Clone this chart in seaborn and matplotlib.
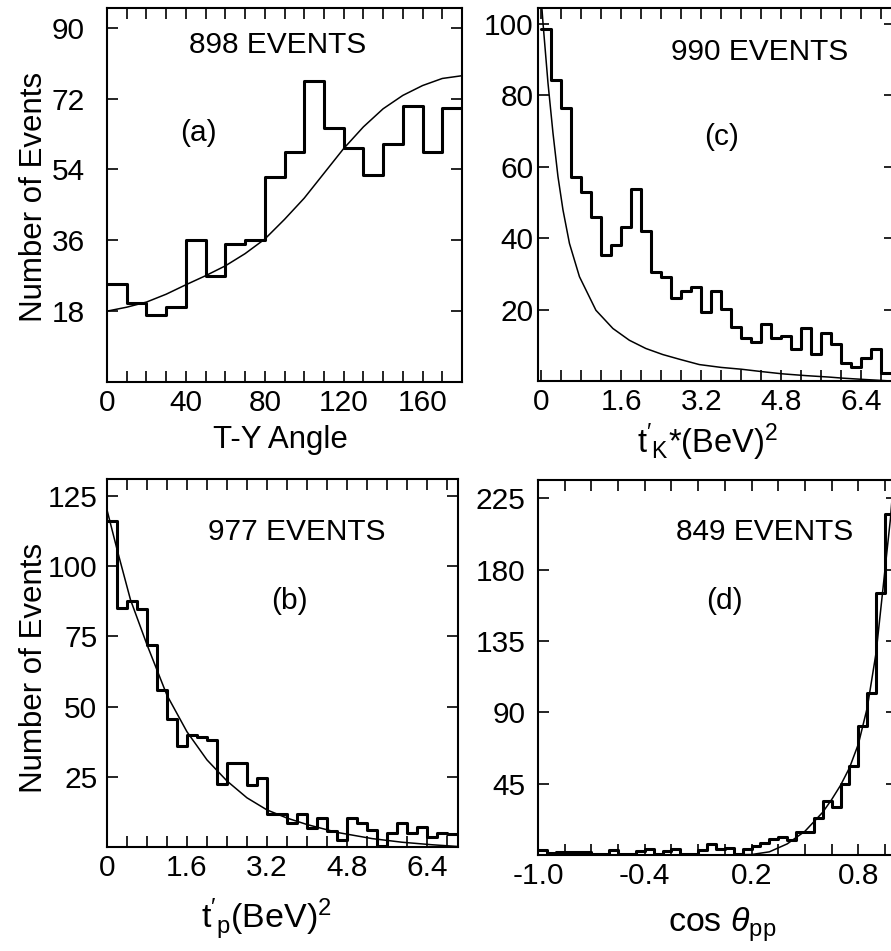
import numpy as np
import pandas as pd
import matplotlib
matplotlib.use("Agg")
import matplotlib.pyplot as plt
import seaborn as sns

# ---------------- data ----------------
# (a) T-Y angle, 10-degree bins
a_edges = list(range(0, 181, 10))
a_counts = [25, 20, 17, 19, 36, 27, 35, 36, 52, 58.5, 76.5, 64.5, 59.5, 52.5, 60.5, 70, 58.5, 69.5]
a_curve_x = [0, 10, 20, 30, 40, 50, 60, 70, 80, 90, 100, 110, 120, 130, 140, 150, 160, 170, 180]
a_curve_y = [18, 19, 20.3, 22.3, 24.7, 27, 29.5, 32.6, 36.3, 41.3, 46.7, 53, 59.3, 64.8, 69.4, 72.8, 75.3, 77.1, 77.8]

# (c) t'_K*, 0.2 bins
c_edges = [round(0.2 * i, 2) for i in range(36)]
c_counts = [98.5, 84.3, 76.4, 57.2, 53.0, 46.0, 35.4, 38.0, 43.2, 53.7, 42.1, 30.6, 29.2, 23.3, 25.1,
            26.2, 19.3, 25.2, 20.1, 15.0, 12.0, 11.0, 15.9, 12.0, 12.7, 8.9, 14.8, 7.6, 13.5, 10.3,
            5.1, 3.9, 6.3, 8.9, 2.1]
c_curve_x = [0.01, 0.03, 0.13, 0.23, 0.33, 0.43, 0.56, 0.76, 1.09, 1.43, 1.76, 2.09, 2.43, 2.76, 3.16,
             3.6, 4.0, 4.43, 4.83, 5.3, 5.76, 6.03, 6.5, 7.0]
c_curve_y = [104, 100.2, 83.4, 69.4, 57.2, 47.9, 38.5, 29.2, 19.8, 14.7, 11.4, 9.1, 7.4, 6.1, 4.6,
             3.8, 3.3, 2.6, 2.0, 1.5, 1.1, 0.8, 0.4, 0.0]

# (b) t'_p, 0.2 bins
b_edges = [round(0.2 * i, 2) for i in range(36)]
b_counts = [116.2, 85.2, 87.6, 84.9, 72.0, 55.9, 45.6, 35.8, 39.7, 39.1, 38.2, 22.6, 29.9, 29.9, 22.0,
            24.6, 11.7, 11.9, 8.4, 11.7, 6.6, 10.4, 5.8, 2.5, 10.4, 8.4, 6.0, 0.4, 5.1, 8.4,
            4.9, 7.0, 3.7, 4.9, 4.5]
b_curve_x = [0, 0.2, 0.47, 0.8, 1.0, 1.2, 1.6, 2.0, 2.4, 2.8, 3.2, 3.6, 4.0, 4.6, 5.3, 5.9, 6.5, 7.0]
b_curve_y = [120, 106, 88, 72, 63, 54, 41, 31, 23.5, 17.5, 13.2, 10.3, 8.0, 5.2, 3.0, 1.7, 0.8, 0.2]

# (d) cos theta_pp, 0.05 bins
d_edges = [round(-1.0 + 0.05 * i, 2) for i in range(41)]
d_counts = [3, 1, 2, 2, 2, 2, 0.5, 0.5, 3, 0.5, 0.5, 2.5, 4, 0.5, 2.5, 4, 0.5, 0.5, 3, 7,
            4, 4.5, 0.5, 3.6, 5.7, 7.8, 9.9, 11.5, 9.4, 14.7, 14.7, 23.5, 34.2, 30.4, 44.7, 56.0,
            81.1, 102.3, 165.6, 214.9]
d_curve_x = [-1.0, 0.0, 0.2, 0.3, 0.4, 0.5, 0.55, 0.6, 0.65, 0.7, 0.75, 0.8, 0.85, 0.9, 0.94, 0.98, 1.0]
d_curve_y = [0, 0, 0.3, 2, 7, 15, 21, 27, 35, 44, 55, 70, 93, 128, 170, 212, 240]

# tick values / labels
a_yticks = [18, 36, 54, 72, 90]
a_xticks = [0, 40, 80, 120, 160]
c_yticks = [20, 40, 60, 80, 100]
c_xticks = [0, 1.6, 3.2, 4.8, 6.4]
b_yticks = [25, 50, 75, 100, 125]
b_xticks = [0, 1.6, 3.2, 4.8, 6.4]
d_yticks = [45, 90, 135, 180, 225]
d_xticks = [-1.0, -0.4, 0.2, 0.8]
d_xticklabels = ["-1.0", "-0.4", "0.2", "0.8"]

# ---------------- style ----------------
sns.set_style("white")
plt.rcParams['font.family'] = ['Liberation Sans', 'DejaVu Sans']
plt.rcParams['mathtext.fontset'] = 'custom'
plt.rcParams['mathtext.rm'] = 'Liberation Sans'
plt.rcParams['mathtext.it'] = 'Liberation Sans:italic'
plt.rcParams['axes.unicode_minus'] = False
for k in ('text.color', 'axes.labelcolor', 'xtick.color', 'ytick.color', 'axes.edgecolor'):
    plt.rcParams[k] = 'black'

W, H = 891, 951
fig = plt.figure(figsize=(W / 100, H / 100), dpi=100)


def px_axes(left, top, right, bottom):
    return fig.add_axes([left / W, 1 - bottom / H, (right - left) / W, (bottom - top) / H])


TICK_FS = 21.5
ax_a = px_axes(107, 8, 462, 382)
ax_c = px_axes(538, 8, 895, 381)
ax_b = px_axes(107, 479, 458, 847)
ax_d = px_axes(538, 480, 897, 855)


def draw(ax, edges, counts, cx, cy):
    e = np.asarray(edges, float)
    df = pd.DataFrame({"x": (e[:-1] + e[1:]) / 2, "w": np.asarray(counts, float)})
    sns.histplot(data=df, x="x", weights="w", bins=list(e), element="step", fill=False,
                 color="black", linewidth=2.2, ax=ax)
    sns.lineplot(x=cx, y=cy, color="black", linewidth=1.1, ax=ax, sort=False)


draw(ax_a, a_edges, a_counts, a_curve_x, a_curve_y)
draw(ax_c, c_edges, c_counts, c_curve_x, c_curve_y)
draw(ax_b, b_edges, b_counts, b_curve_x, b_curve_y)
draw(ax_d, d_edges, d_counts, d_curve_x, d_curve_y)

ax_a.set_xlim(0, 180); ax_a.set_ylim(0, 95)
ax_c.set_xlim(-0.07, 7.08); ax_c.set_ylim(0, 104.4)
ax_b.set_xlim(0, 7.02); ax_b.set_ylim(0, 131)
ax_d.set_xlim(-1.0, 1.017); ax_d.set_ylim(0, 236.6)

ax_a.set_xticks(a_xticks); ax_a.set_xticklabels([str(v) for v in a_xticks])
ax_a.set_xticks(np.arange(0, 181, 10), minor=True)
ax_a.set_yticks(a_yticks); ax_a.set_yticklabels([str(v) for v in a_yticks])

ax_c.set_xticks(c_xticks); ax_c.set_xticklabels(["0", "1.6", "3.2", "4.8", "6.4"])
ax_c.set_xticks(np.arange(0, 7.01, 0.4), minor=True)
ax_c.set_yticks(c_yticks); ax_c.set_yticklabels([str(v) for v in c_yticks])

ax_b.set_xticks(b_xticks); ax_b.set_xticklabels(["0", "1.6", "3.2", "4.8", "6.4"])
ax_b.set_xticks(np.arange(0, 7.01, 0.4), minor=True)
ax_b.set_yticks(b_yticks); ax_b.set_yticklabels([str(v) for v in b_yticks])

ax_d.set_xticks(d_xticks); ax_d.set_xticklabels(d_xticklabels)
ax_d.set_xticks(np.arange(-1.0, 1.01, 0.15), minor=True)
ax_d.set_yticks(d_yticks); ax_d.set_yticklabels([str(v) for v in d_yticks])

ypads = {id(ax_a): 16, id(ax_c): 3, id(ax_b): 7, id(ax_d): 9}
for ax in (ax_a, ax_b, ax_c, ax_d):
    for s in ax.spines.values():
        s.set_linewidth(1.5)
        s.set_color("black")
        s.set_visible(True)
    ax.tick_params(which="both", direction="in", top=True, right=True, bottom=True, left=True,
                   length=8, width=1.2, color="black", labelcolor="black")
    ax.tick_params(axis="x", which="major", labelsize=TICK_FS, pad=5)
    ax.tick_params(axis="y", which="major", labelsize=TICK_FS, pad=ypads[id(ax)])
    ax.set_xlabel(""); ax.set_ylabel("")

TXT_FS = 21.5
ax_a.text(0.48, 0.90, "898 EVENTS", transform=ax_a.transAxes, ha="center", va="center", fontsize=TXT_FS)
ax_a.text(0.257, 0.666, "(a)", transform=ax_a.transAxes, ha="center", va="center", fontsize=TXT_FS)
ax_c.text(0.622, 0.882, "990 EVENTS", transform=ax_c.transAxes, ha="center", va="center", fontsize=TXT_FS)
ax_c.text(0.515, 0.654, "(c)", transform=ax_c.transAxes, ha="center", va="center", fontsize=TXT_FS)
ax_b.text(0.541, 0.856, "977 EVENTS", transform=ax_b.transAxes, ha="center", va="center", fontsize=TXT_FS)
ax_b.text(0.519, 0.668, "(b)", transform=ax_b.transAxes, ha="center", va="center", fontsize=TXT_FS)
ax_d.text(0.63, 0.861, "849 EVENTS", transform=ax_d.transAxes, ha="center", va="center", fontsize=TXT_FS)
ax_d.text(0.518, 0.677, "(d)", transform=ax_d.transAxes, ha="center", va="center", fontsize=TXT_FS)

LAB_FS = 22.5
fig.text(34 / W, 1 - 197 / H, "Number of Events", rotation=90, ha="center", va="center", fontsize=LAB_FS)
fig.text(34 / W, 1 - 668 / H, "Number of Events", rotation=90, ha="center", va="center", fontsize=LAB_FS)
fig.text(280 / W, 1 - 440 / H, "T-Y Angle", ha="center", va="center", fontsize=LAB_FS)
fig.text(707 / W, 1 - 442 / H, r"$\mathrm{t}'_{\mathrm{K}}$*(BeV)$^{2}$", ha="center", va="center", fontsize=LAB_FS + 1)
fig.text(266 / W, 1 - 920 / H, r"$\mathrm{t}'_{\mathrm{p}}$(BeV)$^{2}$", ha="center", va="center", fontsize=LAB_FS + 2)
fig.text(722 / W, 1 - 925 / H, r"cos $\theta_{\mathrm{pp}}$", ha="center", va="center", fontsize=LAB_FS + 2)

fig.savefig("out.png", dpi=100)
